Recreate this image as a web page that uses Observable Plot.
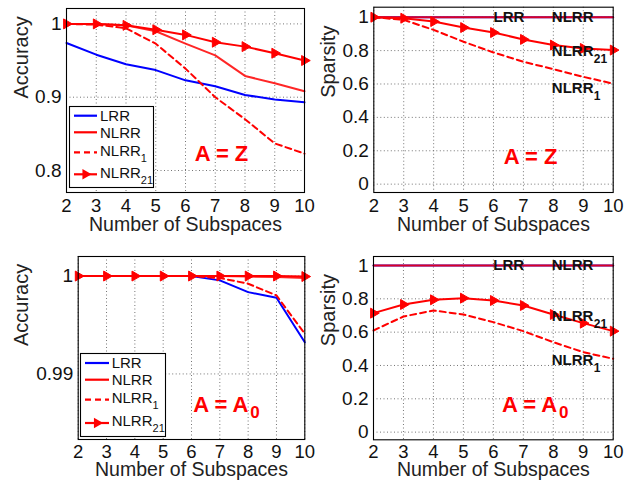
<!DOCTYPE html>
<html><head><meta charset="utf-8">
<script src="https://cdn.jsdelivr.net/npm/d3@7"></script>
<script src="https://cdn.jsdelivr.net/npm/@observablehq/plot@0.6"></script>
<style>
body{margin:0;background:#fff;}
#fig{position:relative;width:626px;height:480px;overflow:hidden;font-family:"Liberation Sans",Arial,sans-serif;background:#fff;}
#fig svg{overflow:visible;position:absolute;}
</style></head><body><div id="fig"></div>
<script>
// ---- data ----
const subspaces = [2,3,4,5,6,7,8,9,10];
const seriesNames = ["LRR","NLRR","NLRR1","NLRR21"];
// Accuracy, A = Z
const accZ_LRR    = [0.974,0.958,0.945,0.937,0.923,0.915,0.903,0.897,0.893];
const accZ_NLRR   = [1.000,1.000,0.998,0.990,0.973,0.957,0.929,0.919,0.908];
const accZ_NLRR1  = [1.000,0.999,0.994,0.973,0.939,0.900,0.870,0.837,0.823];
const accZ_NLRR21 = [1.000,1.000,0.998,0.992,0.985,0.975,0.969,0.960,0.950];
// Sparsity, A = Z
const spZ_LRR    = [1,1,1,1,1,1,1,1,1];
const spZ_NLRR   = [1,1,1,1,1,1,1,1,1];
const spZ_NLRR1  = [1.000,0.984,0.924,0.853,0.789,0.733,0.689,0.643,0.602];
const spZ_NLRR21 = [1.000,0.994,0.974,0.938,0.908,0.867,0.833,0.813,0.803];
// Accuracy, A = A0
const accA_LRR    = [1,1,1,1,1,0.99956,0.99836,0.99778,0.99324];
const accA_NLRR   = [1,1,1,1,1,1,0.99995,0.99990,0.99980];
const accA_NLRR1  = [1,1,1,1,1,0.99980,0.99922,0.99802,0.99410];
const accA_NLRR21 = [1,1,1,1,1,1,1,1,0.99995];
// Sparsity, A = A0
const spA_LRR    = [1,1,1,1,1,1,1,1,1];
const spA_NLRR   = [1,1,1,1,1,1,1,1,1];
const spA_NLRR1  = [0.610,0.694,0.730,0.706,0.660,0.606,0.540,0.480,0.440];
const spA_NLRR21 = [0.714,0.766,0.794,0.804,0.790,0.760,0.706,0.654,0.606];
// ticks
const accZTicks = [0.8,0.9,1];
const accATicks = [0.99,1];
const spTicks = [0,0.2,0.4,0.6,0.8,1];
const xLabel = "Number of Subspaces";
// in-plot labels (data coordinates)
const spZLabels = [{x:6.0,y:1.0,t:"LRR",s:""},{x:7.95,y:1.0,t:"NLRR",s:""},{x:7.95,y:0.794,t:"NLRR",s:"21"},{x:7.95,y:0.575,t:"NLRR",s:"1"}];
const spALabels = [{x:6.0,y:1.0,t:"LRR",s:""},{x:7.95,y:1.0,t:"NLRR",s:""},{x:7.95,y:0.697,t:"NLRR",s:"21"},{x:7.95,y:0.433,t:"NLRR",s:"1"}];
const condAccZ = [{x:7.21,y:0.822,t:"A = Z",s:""}];
const condSpZ  = [{x:7.24,y:0.165,t:"A = Z",s:""}];
const condAccA = [{x:6.06,y:0.98687,t:"A = A",s:"0"}];
const condSpA  = [{x:6.29,y:0.166,t:"A = A",s:"0"}];

// ---- styles ----
const FONT = '"Liberation Sans", Arial, sans-serif';
const styleOf = {
  LRR:   {stroke:"#0000ff", dash:null, marker:false, opacity:1},
  NLRR:  {stroke:"#ff0000", dash:null, marker:false, opacity:0.85},
  NLRR1: {stroke:"#ff0000", dash:"6,4", marker:false, opacity:1},
  NLRR21:{stroke:"#ff0000", dash:null, marker:true, opacity:1}
};

function rows(values){ return subspaces.map((x,i)=>({x, y:values[i]})); }

const fig = d3.select("#fig");

function panel(cfg){
  const marks = [
    Plot.gridX(subspaces, {stroke:"#666", strokeOpacity:0.9, strokeDasharray:"1,2.5"}),
    Plot.gridY(cfg.yTicks, {stroke:"#666", strokeOpacity:0.9, strokeDasharray:"1,2.5"})
  ];
  cfg.series.forEach((vals, k) => {
    const st = styleOf[seriesNames[k]];
    marks.push(Plot.line(rows(vals), {x:"x", y:"y", stroke:st.stroke, strokeWidth:2, strokeDasharray:st.dash, strokeOpacity:st.opacity}));
    if (st.marker) marks.push(Plot.dot(rows(vals), {x:"x", y:"y", symbol:"triangle", rotate:90, r:3.7, fill:st.stroke, stroke:st.stroke, strokeWidth:1}));
  });
  marks.push(Plot.frame({stroke:"black", strokeWidth:1.1}));
  marks.push(Plot.axisX(subspaces, {tickSize:0, tickPadding:cfg.xPad, fontSize:18.5, label:null, tickFormat:d=>String(d)}));
  marks.push(Plot.axisY(cfg.yTicks, {tickSize:0, tickPadding:5, fontSize:19, label:null, tickFormat:d=>String(d)}));
  marks.push(Plot.text([xLabel], {text:d=>d, frameAnchor:"bottom", lineAnchor:"middle", dy:cfg.xLabelDy, fontSize:19.5, fill:"#222"}));
  marks.push(Plot.text([cfg.yLabel], {text:d=>d, frameAnchor:"left", lineAnchor:"middle", rotate:-90, dx:cfg.yLabelDx, dy:-2, fontSize:20, fill:"#222"}));
  if (cfg.labels) {
    marks.push(Plot.text(cfg.labels, {x:"x", y:"y", text:"t", textAnchor:"start", fontSize:15, fontWeight:"bold", fill:"#111"}));
    marks.push(Plot.text(cfg.labels, {x:"x", y:"y", text:"s", textAnchor:"start", dx:42, dy:8, fontSize:12, fontWeight:"bold", fill:"#111"}));
  }
  marks.push(Plot.text(cfg.cond, {x:"x", y:"y", text:"t", textAnchor:cfg.condAnchor, fontSize:22, fontWeight:"bold", fill:"#ff0000"}));
  marks.push(Plot.text(cfg.cond, {x:"x", y:"y", text:"s", textAnchor:"start", dx:57, dy:8, fontSize:17, fontWeight:"bold", fill:"#ff0000"}));
  const svg = Plot.plot({
    width:cfg.w, height:cfg.h,
    marginLeft:cfg.ml, marginRight:cfg.mr, marginTop:cfg.mt, marginBottom:cfg.mb,
    x:{domain:[2,10]}, y:{domain:cfg.yDomain},
    style:{fontFamily:FONT, fontSize:"19px", color:"#111", background:"transparent", overflow:"visible"},
    marks
  });
  svg.style.left = cfg.left + "px";
  svg.style.top = cfg.top + "px";
  fig.node().appendChild(svg);
}

panel({left:0, top:0, w:313, h:240, ml:66, mr:9, mt:8, mb:48, yDomain:[0.77,1.021], yTicks:accZTicks,
  yLabel:"Accuracy", yLabelDx:-45, xPad:6, xLabelDy:32, series:[accZ_LRR,accZ_NLRR,accZ_NLRR1,accZ_NLRR21],
  cond:condAccZ, condAnchor:"middle"});
panel({left:313, top:0, w:313, h:240, ml:60.3, mr:13.3, mt:6.7, mb:48, yDomain:[-0.05,1.06], yTicks:spTicks,
  yLabel:"Sparsity", yLabelDx:-45, xPad:6, xLabelDy:32, series:[spZ_LRR,spZ_NLRR,spZ_NLRR1,spZ_NLRR21],
  labels:spZLabels, cond:condSpZ, condAnchor:"middle"});
panel({left:0, top:240, w:313, h:240, ml:77.7, mr:8.7, mt:16, mb:41, yDomain:[0.9833,1.002], yTicks:accATicks,
  yLabel:"Accuracy", yLabelDx:-57, xPad:5, xLabelDy:30, series:[accA_LRR,accA_NLRR,accA_NLRR1,accA_NLRR21],
  cond:condAccA, condAnchor:"start"});
panel({left:313, top:240, w:313, h:240, ml:60, mr:13.3, mt:16, mb:40.7, yDomain:[-0.046,1.054], yTicks:spTicks,
  yLabel:"Sparsity", yLabelDx:-45, xPad:5, xLabelDy:30, series:[spA_LRR,spA_NLRR,spA_NLRR1,spA_NLRR21],
  labels:spALabels, cond:condSpA, condAnchor:"start"});

// ---- legends ----
function legend(cfg){
  const svg = fig.append("svg").attr("width", cfg.w).attr("height", cfg.h)
    .style("left", cfg.left+"px").style("top", cfg.top+"px");
  svg.append("rect").attr("x",0.5).attr("y",0.5).attr("width",cfg.w-1).attr("height",cfg.h-1)
    .attr("fill","white").attr("stroke","black").attr("stroke-width",1.1);
  const subs = {LRR:"", NLRR:"", NLRR1:"1", NLRR21:"21"};
  seriesNames.forEach((name,i) => {
    const st = styleOf[name];
    const y = cfg.ys[i];
    svg.append("line").attr("x1",cfg.x0).attr("x2",cfg.x1).attr("y1",y).attr("y2",y)
      .attr("stroke",st.stroke).attr("stroke-width",2.2).attr("stroke-dasharray",st.dash);
    if (st.marker) {
      svg.append("path").attr("d", d3.symbol(d3.symbolTriangle, 48)())
        .attr("transform",`translate(${(cfg.x0+cfg.x1)/2},${y}) rotate(90)`).attr("fill",st.stroke);
    }
    const sub = subs[name];
    const t = svg.append("text").attr("x",cfg.tx).attr("y", y + (sub ? -2 : 0)).attr("dy","0.35em")
      .attr("font-family",FONT).attr("font-size",15).attr("fill","#111").text(name.replace(/\d+$/,""));
    if (sub) t.append("tspan").attr("dy","0.55em").attr("font-size",11).text(sub);
  });
}
legend({left:69, top:106, w:85, h:82, ys:[9.7,26.3,46.3,68.3], x0:5, x1:28, tx:31});
legend({left:80, top:353, w:86, h:84, ys:[10,26.7,46.7,70], x0:5, x1:29, tx:31.7});
</script>
</body></html>
